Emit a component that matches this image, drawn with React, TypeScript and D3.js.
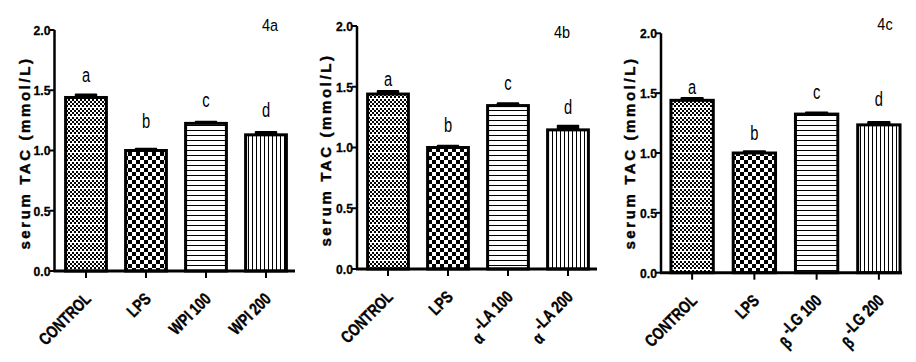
import React from 'react';
import * as d3 from 'd3';

// ---- data ----
const categoriesA = ['CONTROL', 'LPS', 'WPI 100', 'WPI 200'];
const categoriesB = ['CONTROL', 'LPS', '-LA 100', '-LA 200'];
const categoriesC = ['CONTROL', 'LPS', '-LG 100', '-LG 200'];
const greekB = ['', '', 'α', 'α'];
const greekC = ['', '', 'β', 'β'];
const greekA = ['', '', '', ''];

const meansA = [1.44, 1.0, 1.225, 1.13];
const semA = [0.02, 0.01, 0.01, 0.02];
const meansB = [1.44, 1.0, 1.345, 1.145];
const semB = [0.02, 0.01, 0.015, 0.03];
const meansC = [1.44, 1.0, 1.325, 1.235];
const semC = [0.015, 0.01, 0.01, 0.02];

const lettersABCD = ['a', 'b', 'c', 'd'];
const letterLevelA = [1.57, 1.187, 1.36, 1.276];
const letterLevelB = [1.51, 1.13, 1.477, 1.276];
const letterLevelC = [1.493, 1.109, 1.449, 1.393];

const yTicks = [0, 0.5, 1.0, 1.5, 2.0];
const panelTags = ['4a', '4b', '4c'];
const yTitle = 'serum TAC (mmol/L)';

const patternIds = ['fineCheck', 'bigCheck', 'hLines', 'vLines'];

// ---- layout ----
const layouts = [
  { axisX: 54.5, xEnd: 295, y0: 271, y2: 30, tagX: 270, tagY: 31, titleX: 27, titleY: 153 },
  { axisX: 357, xEnd: 597, y0: 269, y2: 26, tagX: 562, tagY: 38, titleX: 328, titleY: 150 },
  { axisX: 661, xEnd: 902, y0: 272.7, y2: 33.3, tagX: 885, tagY: 30, titleX: 632, titleY: 153 },
];
const bandRanges = [
  [56, 296],
  [358, 598],
  [661, 910],
];

const SANS = "'Liberation Sans', Arial, sans-serif";

type PanelProps = {
  idx: number;
  cats: string[];
  greek: string[];
  means: number[];
  sems: number[];
  levels: number[];
};

function Panel({ idx, cats, greek, means, sems, levels }: PanelProps) {
  const L = layouts[idx];
  const y = d3.scaleLinear().domain([0, 2]).range([L.y0, L.y2]);
  const x = d3
    .scaleBand<string>()
    .domain(cats)
    .range(bandRanges[idx] as [number, number])
    .paddingInner(0.32)
    .paddingOuter(0.16);
  const bw = x.bandwidth();
  return (
    <g>
      {cats.map((c, i) => {
        const x0 = x(c)!;
        const cx = x0 + bw / 2;
        const capW = bw * 0.55;
        return (
          <g key={c}>
            <rect
              x={cx - capW / 2}
              y={y(means[i] + sems[i]) - 1.5}
              width={capW}
              height={y(means[i]) - y(means[i] + sems[i]) + 1.5}
              fill="#000"
              rx={1}
            />
            <rect
              x={x0}
              y={y(means[i])}
              width={bw}
              height={L.y0 - y(means[i])}
              fill={`url(#${patternIds[i]})`}
              stroke="#000"
              strokeWidth={3}
            />
            <text
              transform={`translate(${cx},${y(levels[i])}) scale(0.7,1)`}
              textAnchor="middle"
              fontFamily={SANS}
              fontSize={21}
              fill="#000"
            >
              {lettersABCD[i]}
            </text>
            <line x1={cx} x2={cx} y1={L.y0} y2={L.y0 + 7} stroke="#000" strokeWidth={2} />
            <text
              transform={`translate(${cx + 6},${L.y0 + 29}) rotate(-45) scale(0.78,1)`}
              textAnchor="end"
              fontFamily={SANS}
              fontWeight="bold"
              fontSize={17}
              fill="#000"
              stroke="#000"
              strokeWidth={0.4}
            >
              {greek[i] ? (
                <>
                  <tspan dy={9}>{greek[i]}</tspan>
                  <tspan dx={3} dy={-9}>
                    {c}
                  </tspan>
                </>
              ) : (
                c
              )}
            </text>
          </g>
        );
      })}
      {/* y axis */}
      <line x1={L.axisX} x2={L.axisX} y1={L.y2} y2={L.y0} stroke="#000" strokeWidth={2.5} />
      {yTicks.map((t) => (
        <g key={t}>
          <line x1={L.axisX - 5} x2={L.axisX} y1={y(t)} y2={y(t)} stroke="#000" strokeWidth={2} />
          <text
            transform={`translate(${L.axisX - 4},${y(t)}) scale(0.9,1)`}
            dy="0.36em"
            textAnchor="end"
            fontFamily={SANS}
            fontWeight="bold"
            fontSize={13.5}
            fill="#000"
            stroke="#000"
            strokeWidth={0.3}
          >
            {d3.format('.1f')(t)}
          </text>
        </g>
      ))}
      {/* x axis */}
      <line x1={L.axisX - 1} x2={L.xEnd} y1={L.y0} y2={L.y0} stroke="#000" strokeWidth={3} />
      <text
        transform={`translate(${L.titleX + 3},${L.titleY}) rotate(-90)`}
        textAnchor="middle"
        fontFamily={SANS}
        fontWeight="bold"
        fontSize={15}
        letterSpacing={2.6}
        fill="#000"
        stroke="#000"
        strokeWidth={0.4}
      >
        {yTitle}
      </text>
      <text
        transform={`translate(${L.tagX},${L.tagY}) scale(0.85,1)`}
        textAnchor="middle"
        fontFamily={SANS}
        fontSize={17}
        fill="#000"
      >
        {panelTags[idx]}
      </text>
    </g>
  );
}

export default function App() {
  return (
    <svg
      width={916}
      height={362}
      style={{ position: 'absolute', left: 0, top: 0, background: '#fff' }}
    >
      <defs>
        <pattern id="fineCheck" patternUnits="userSpaceOnUse" width={4} height={9}>
          <rect width={4} height={9} fill="#fff" />
          <rect x={0} y={0} width={2} height={2} fill="#000" />
          <rect x={2} y={2} width={2} height={2} fill="#000" />
          <rect x={0} y={4} width={2} height={2} fill="#000" />
          <rect x={2} y={6} width={2} height={2} fill="#000" />
        </pattern>
        <pattern id="bigCheck" patternUnits="userSpaceOnUse" width={8} height={8}>
          <rect width={8} height={8} fill="#fff" />
          <rect x={0} y={0} width={4} height={4} fill="#000" />
          <rect x={4} y={4} width={4} height={4} fill="#000" />
        </pattern>
        <pattern id="hLines" patternUnits="userSpaceOnUse" width={8} height={5}>
          <rect width={8} height={5} fill="#fff" />
          <rect x={0} y={0} width={8} height={1} fill="#000" />
        </pattern>
        <pattern id="vLines" patternUnits="userSpaceOnUse" width={4} height={8}>
          <rect width={4} height={8} fill="#fff" />
          <rect x={0} y={0} width={1} height={8} fill="#000" />
        </pattern>
      </defs>
      <rect width={916} height={362} fill="#fff" />
      <Panel idx={0} cats={categoriesA} greek={greekA} means={meansA} sems={semA} levels={letterLevelA} />
      <Panel idx={1} cats={categoriesB} greek={greekB} means={meansB} sems={semB} levels={letterLevelB} />
      <Panel idx={2} cats={categoriesC} greek={greekC} means={meansC} sems={semC} levels={letterLevelC} />
    </svg>
  );
}
